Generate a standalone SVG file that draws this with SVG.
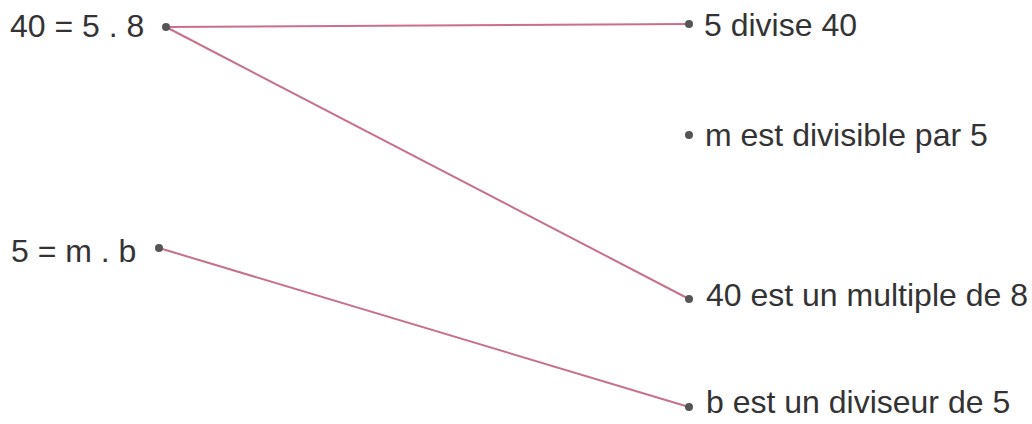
<svg xmlns="http://www.w3.org/2000/svg" width="1032" height="424" viewBox="0 0 1032 424">
<style>
text{font-family:"Liberation Sans",Arial,sans-serif;font-size:32px;fill:#333}
.dot{fill:#555}
.conn{stroke:#c8708a;stroke-width:2;fill:none}
</style>
<rect width="1032" height="424" fill="#fff"/>
<g id="connectors">
<line class="conn" x1="166" y1="27" x2="689" y2="24"/>
<line class="conn" x1="166" y1="27" x2="689" y2="299"/>
<line class="conn" x1="159" y1="248" x2="689" y2="407"/>
</g>
<g id="L1"><text x="10" y="37">40 = 5 . 8</text><circle class="dot" cx="166" cy="27" r="4"/></g>
<g id="L2"><text x="11" y="262">5 = m . b</text><circle class="dot" cx="159" cy="248" r="4"/></g>
<g id="R1"><circle class="dot" cx="689" cy="24" r="4"/><text x="704" y="36">5 divise 40</text></g>
<g id="R2"><circle class="dot" cx="689" cy="135" r="4"/><text x="705" y="146">m est divisible par 5</text></g>
<g id="R3"><circle class="dot" cx="689" cy="299" r="4"/><text x="706" y="306">40 est un multiple de 8</text></g>
<g id="R4"><circle class="dot" cx="689" cy="407" r="4"/><text x="706" y="413">b est un diviseur de 5</text></g>
</svg>
